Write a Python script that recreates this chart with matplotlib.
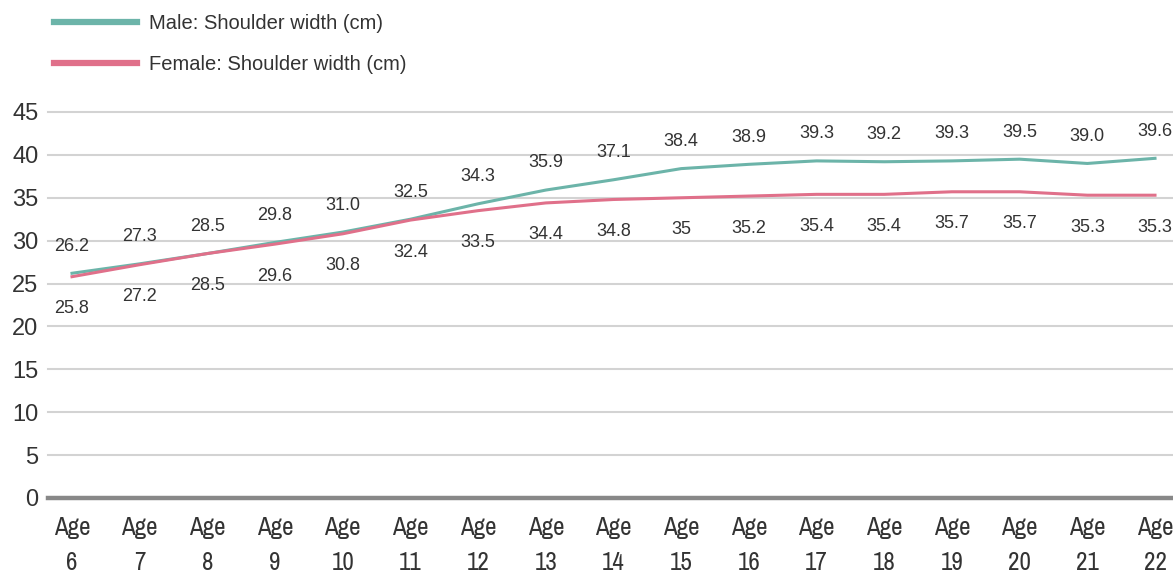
import matplotlib
matplotlib.use("Agg")
import matplotlib.pyplot as plt
from matplotlib.lines import Line2D

ages = ["Age\n6", "Age\n7", "Age\n8", "Age\n9", "Age\n10", "Age\n11", "Age\n12", "Age\n13",
        "Age\n14", "Age\n15", "Age\n16", "Age\n17", "Age\n18", "Age\n19", "Age\n20", "Age\n21", "Age\n22"]
male = [26.2, 27.3, 28.5, 29.8, 31.0, 32.5, 34.3, 35.9, 37.1, 38.4, 38.9, 39.3, 39.2, 39.3, 39.5, 39.0, 39.6]
female = [25.8, 27.2, 28.5, 29.6, 30.8, 32.4, 33.5, 34.4, 34.8, 35, 35.2, 35.4, 35.4, 35.7, 35.7, 35.3, 35.3]
male_lbl = ["26.2", "27.3", "28.5", "29.8", "31.0", "32.5", "34.3", "35.9", "37.1", "38.4", "38.9",
            "39.3", "39.2", "39.3", "39.5", "39.0", "39.6"]
female_lbl = ["25.8", "27.2", "28.5", "29.6", "30.8", "32.4", "33.5", "34.4", "34.8", "35", "35.2",
              "35.4", "35.4", "35.7", "35.7", "35.3", "35.3"]
yticks = [0, 5, 10, 15, 20, 25, 30, 35, 40, 45]

MALE_C = "#6cb4a9"
FEMALE_C = "#e0708a"
TXT = "#333333"

plt.rcParams['font.family'] = ['Liberation Sans', 'DejaVu Sans']

fig = plt.figure(figsize=(11.73, 5.73), dpi=100)
ax = fig.add_axes([48/1173, 1-498/573, 1-48/1173, (498-112)/573])

x = list(range(len(ages)))
ax.plot(x, male, color=MALE_C, lw=2.2, zorder=3)
ax.plot(x, female, color=FEMALE_C, lw=2.2, zorder=3)

for xi, v, s in zip(x, male, male_lbl):
    ax.annotate(s, (xi, v), xytext=(0, 19.5), textcoords="offset points", ha="center", va="center",
                fontsize=13, color=TXT, annotation_clip=False)
for xi, v, s in zip(x, female, female_lbl):
    ax.annotate(s, (xi, v), xytext=(0, -23), textcoords="offset points", ha="center", va="center",
                fontsize=13, color=TXT, annotation_clip=False)

ax.set_xlim(-24/67.69, 16 + 18/67.69)
ax.set_ylim(0, 45)
ax.set_yticks(yticks)
ax.set_yticklabels([str(t) for t in yticks], fontsize=17, color=TXT)
ax.set_xticks(x)
ax.set_xticklabels(ages, fontsize=18, color=TXT, family=['Archivo Narrow', 'Liberation Sans'],
                   linespacing=1.65)
ax.tick_params(axis='both', length=0)
ax.tick_params(axis='x', pad=13)
ax.tick_params(axis='y', pad=7)
for t in yticks:
    if t == 0:
        ax.axhline(t, color="#888888", lw=3.2, zorder=2, clip_on=False)
    else:
        ax.axhline(t, color="#d3d3d3", lw=1.5, zorder=1, clip_on=False)
for sp in ax.spines.values():
    sp.set_visible(False)

handles = [Line2D([], [], color=MALE_C, lw=4.5), Line2D([], [], color=FEMALE_C, lw=4.5)]
fig.legend(handles, ["Male: Shoulder width (cm)", "Female: Shoulder width (cm)"],
           loc="upper left", bbox_to_anchor=(36/1173, 1 + 4/573), frameon=False, fontsize=14.5,
           handlelength=4.1, handletextpad=0.6, labelspacing=1.1, labelcolor=TXT)

fig.savefig("out.png", dpi=100)
